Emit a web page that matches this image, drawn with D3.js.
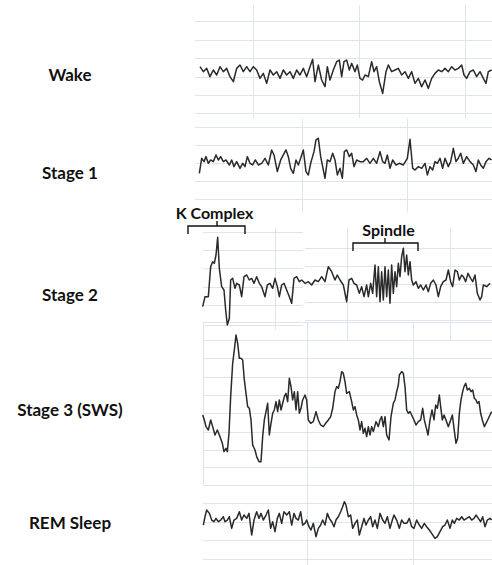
<!DOCTYPE html>
<html><head><meta charset="utf-8">
<script src="https://cdn.jsdelivr.net/npm/d3@7"></script>
<style>html,body{margin:0;padding:0;background:#fff;}svg{display:block;}</style>
</head><body>
<svg id="chart" width="492" height="565"></svg>
<script>
// ---------------- DATA ----------------
const stageLabels = ["Wake", "Stage 1", "Stage 2", "Stage 3 (SWS)", "REM Sleep"];

// EEG traces: [sample, amplitude (µV)]
const wakeEEG = [[30,15],[40,0],[50,10],[60,-15],[70,5],[80,-10],[90,15],[100,0],[110,10],[120,-15],[130,-30],[140,10],[150,20],[160,0],[170,15],[180,0],[190,15],[200,5],[210,-20],[220,-5],[230,-35],[240,5],[250,-10],[260,0],[270,-20],[280,5],[290,-10],[300,0],[310,-20],[320,5],[330,-10],[340,10],[350,-15],[360,15],[368,37],[375,-30],[385,20],[395,-25],[405,-45],[412,15],[420,-25],[430,5],[440,30],[448,35],[455,-15],[462,30],[470,35],[478,5],[485,25],[495,0],[502,20],[510,-20],[518,-25],[525,-10],[535,-15],[545,30],[552,0],[560,15],[568,-30],[578,-65],[588,0],[595,20],[605,0],[615,5],[625,10],[635,-10],[645,0],[655,-20],[665,0],[675,-35],[685,-20],[695,-45],[705,-25],[715,-50],[725,-20],[735,-5],[745,5],[755,0],[765,10],[775,0],[785,15],[795,5],[805,10],[815,20],[822,-10],[830,-20],[840,0],[850,5],[860,-15],[870,0],[880,-20],[888,-35],[895,0],[905,5]];

const stage1EEG = [[28,-30],[35,15],[42,5],[48,20],[55,0],[62,10],[70,5],[78,25],[85,10],[92,20],[100,5],[108,10],[118,-5],[125,10],[132,-10],[140,5],[150,-15],[158,0],[165,-10],[172,20],[180,0],[188,-5],[196,10],[205,-5],[215,0],[225,15],[235,-5],[245,40],[252,25],[262,-25],[272,10],[280,25],[288,40],[295,20],[302,-15],[310,-30],[318,10],[325,-5],[332,15],[340,40],[348,-25],[355,-35],[362,0],[372,35],[378,70],[385,75],[392,20],[398,-10],[405,-45],[412,10],[420,5],[428,30],[435,10],[442,-35],[450,-15],[457,-45],[463,35],[470,40],[478,20],[485,30],[492,-10],[500,10],[510,5],[520,5],[530,15],[540,0],[550,15],[560,0],[570,35],[578,5],[585,0],[592,25],[600,-15],[608,10],[618,-5],[628,0],[640,-5],[652,15],[660,72],[668,-15],[675,-20],[685,-10],[695,-15],[705,0],[712,-35],[720,-10],[728,-20],[735,5],[742,0],[750,15],[758,-15],[765,15],[775,-10],[782,5],[790,45],[798,5],[805,15],[812,30],[820,0],[830,20],[840,5],[850,-5],[858,-25],[865,10],[872,-5],[880,-15],[888,5],[897,15],[905,10]];

const stage2EEG = [[68,-65],[75,-35],[85,-35],[92,55],[98,70],[103,65],[108,90],[113,143],[118,50],[125,-5],[132,-15],[137,-75],[142,-120],[148,-100],[152,15],[158,20],[165,-10],[170,5],[178,0],[185,-35],[192,25],[200,30],[208,15],[215,20],[222,5],[230,25],[238,5],[245,-5],[255,-35],[262,0],[270,5],[278,-10],[285,20],[292,-5],[298,-35],[305,0],[312,5],[320,-15],[328,-35],[335,-55],[342,20],[350,25],[358,10],[365,15],[375,5],[385,10],[395,0],[405,15],[415,10],[425,25],[435,10],[445,55],[455,40],[465,15],[472,30],[480,15],[490,0],[500,-50],[507,15],[515,20],[522,5],[530,0],[538,-25],[545,-5],[552,-35],[560,0],[565,-35],[572,5],[578,-25],[585,60],[590,-35],[595,55],[600,-50],[605,40],[610,-45],[615,55],[620,-35],[625,45],[630,-55],[635,60],[640,-25],[645,40],[650,-5],[655,65],[660,25],[665,85],[670,110],[675,40],[680,90],[685,30],[690,70],[695,15],[700,0],[708,10],[715,-10],[722,0],[730,-15],[738,0],[745,-20],[752,5],[760,15],[768,0],[775,-35],[782,-5],[790,10],[798,15],[805,45],[812,10],[818,-5],[825,45],[832,40],[838,15],[845,30],[850,25],[857,10],[864,35],[872,20],[878,10],[885,30],[892,-25],[900,-45],[905,-35],[910,0],[920,-5],[930,5]];

const stage3EEG = [[38,-5],[43,-20],[48,-40],[55,-50],[62,-20],[68,-40],[75,-65],[82,-50],[90,-70],[97,-90],[102,-115],[108,-105],[112,-115],[117,-60],[122,50],[128,150],[133,190],[138,235],[143,210],[148,165],[153,165],[158,160],[163,100],[168,60],[173,20],[178,15],[183,-20],[188,-95],[195,-110],[200,-130],[207,-145],[213,-145],[218,-70],[223,-20],[228,5],[233,30],[238,-65],[243,-30],[248,0],[253,10],[258,35],[263,5],[268,40],[273,10],[278,30],[283,50],[288,60],[293,35],[298,105],[303,80],[308,40],[313,65],[318,10],[323,65],[328,0],[333,15],[338,40],[345,55],[350,40],[355,-20],[362,-30],[370,-25],[378,5],[385,-20],[392,-35],[400,-40],[407,-30],[415,-20],[422,-10],[428,15],[435,65],[440,80],[445,75],[450,95],[455,125],[460,120],[465,95],[470,60],[478,65],[485,35],[490,10],[495,20],[500,-5],[505,-20],[510,-50],[515,-25],[520,-60],[525,-45],[530,-70],[535,-40],[540,-65],[545,-40],[550,-55],[558,-25],[565,-40],[570,-20],[575,-10],[580,-40],[585,-10],[590,-65],[597,-80],[603,-10],[610,30],[615,40],[620,65],[625,85],[628,115],[635,125],[640,120],[645,80],[650,10],[655,0],[660,5],[665,-5],[672,-20],[678,-35],[685,-25],[692,-20],[698,15],[703,-20],[708,-40],[714,-65],[720,-20],[726,10],[732,-20],[737,25],[742,15],[748,55],[752,20],[757,-20],[762,-5],[768,-20],[775,-40],[782,-20],[787,-5],[792,-45],[798,-90],[803,-75],[808,0],[813,40],[818,65],[822,80],[827,90],[832,70],[838,75],[843,65],[848,70],[853,45],[858,40],[862,30],[867,35],[872,0],[877,-20],[883,-40],[888,-30],[893,-20],[900,-5],[905,5]];

const remEEG = [[40,-10],[45,15],[50,35],[58,25],[65,5],[72,0],[78,10],[85,0],[92,5],[100,15],[105,0],[112,5],[118,15],[125,-20],[132,5],[140,10],[148,30],[155,5],[162,20],[170,10],[177,25],[185,-40],[192,5],[200,30],[207,10],[213,25],[220,5],[228,20],[235,35],[242,-20],[248,0],[255,-30],[262,10],[268,25],[275,-5],[282,30],[290,20],[298,30],[305,-10],[312,25],[318,10],[325,5],[332,30],[338,-10],[345,-5],[350,5],[357,-15],[363,-25],[370,-5],[378,-45],[385,-20],[392,-10],[398,5],[405,-10],[412,25],[418,10],[425,0],[432,-15],[438,5],[445,15],[452,30],[458,45],[463,60],[468,50],[475,15],[482,20],[488,-20],[495,-5],[502,5],[508,-40],[515,-15],[522,10],[528,-10],[535,5],[542,15],[548,-15],[555,5],[562,-20],[570,25],[578,5],[585,-5],[592,15],[600,-20],[607,5],[612,20],[620,5],[628,-20],[635,5],[642,-5],[650,-5],[658,10],[665,-15],[672,-20],[680,5],[688,-10],[695,-20],[703,-5],[710,-15],[718,-25],[725,-35],[735,-50],[742,-45],[750,-30],[758,-15],[765,-10],[772,5],[780,-20],[787,5],[793,-5],[800,10],[808,5],[815,15],[822,5],[830,10],[838,15],[845,5],[852,10],[858,20],[865,10],[872,0],[878,15],[885,-15],[892,5],[900,10],[905,5]];

// Annotations on the Stage 2 trace (sample ranges)
const annotationLabels = ["K Complex", "Spindle"];
const annotationFrom = [24, 519];
const annotationTo = [195, 714];
const annotationMark = [111, 615];

// ---------------- LAYOUT ----------------
const traces = [wakeEEG, stage1EEG, stage2EEG, stage3EEG, remEEG];
const W = 492, H = 565;
const panels = [
  {base: 71.7, labelY: 75, start: 0, grids: [
    {x0: 195, x1: 492, h: [21, 40, 58, 77, 95, 113], v: [253, 359, 465], y0: 5, y1: 118}]},
  {base: 163.3, labelY: 173, start: 0, grids: [
    {x0: 195, x1: 492, h: [127, 145, 163, 181, 199], v: [302, 407], y0: 118, y1: 212}]},
  {base: 285, labelY: 295, start: 30, grids: [
    {x0: 203, x1: 303, h: [232, 250, 268, 287, 305, 325], v: [275], y0: 228, y1: 330},
    {x0: 305, x1: 492, h: [248, 266, 284, 302, 320], v: [347, 450], y0: 228, y1: 340}]},
  {base: 413.3, labelY: 410, start: 0, grids: [
    {x0: 203, x1: 492, h: [322, 340, 358, 377, 395, 413, 432, 450, 467, 485], v: [203, 307, 413], y0: 322, y1: 486}]},
  {base: 521.7, labelY: 523, start: 0, grids: [
    {x0: 203, x1: 492, h: [503, 522, 540, 559], v: [307, 413], y0: 470, y1: 565}]}
];

const svg = d3.select("#chart");
svg.append("rect").attr("width", W).attr("height", H).attr("fill", "#fff");

const gridColor = "#dfe5ee";
const gGrid = svg.append("g").attr("stroke", gridColor).attr("stroke-width", 1).attr("shape-rendering", "crispEdges");
panels.forEach(p => {
  p.grids.forEach(g => {
    gGrid.selectAll(null).data(g.h).enter().append("line")
      .attr("x1", g.x0).attr("x2", g.x1)
      .attr("y1", d => Math.round(d) + 0.5).attr("y2", d => Math.round(d) + 0.5);
    gGrid.selectAll(null).data(g.v).enter().append("line")
      .attr("y1", g.y0).attr("y2", g.y1)
      .attr("x1", d => Math.round(d) + 0.5).attr("x2", d => Math.round(d) + 0.5);
  });
});

const font = "Lato, 'Open Sans', sans-serif";

traces.forEach((data, i) => {
  const p = panels[i];
  const x = d3.scaleLinear().domain([p.start, p.start + 906]).range([190, 492]);
  const y = d3.scaleLinear().domain([-300, 300]).range([p.base + 100, p.base - 100]);
  const line = d3.line().x(d => x(d[0])).y(d => y(d[1]));
  svg.append("path").datum(data)
    .attr("d", line)
    .attr("fill", "none")
    .attr("stroke", "#2a2a2a")
    .attr("stroke-width", 1.5)
    .attr("stroke-linejoin", "round");
  p.x = x; p.y = y;
});

// stage labels
svg.selectAll("text.stage").data(stageLabels).enter().append("text")
  .attr("class", "stage")
  .attr("x", 70)
  .attr("y", (d, i) => panels[i].labelY)
  .attr("dy", "0.35em")
  .attr("text-anchor", "middle")
  .attr("font-family", font)
  .attr("font-weight", "bold")
  .attr("font-size", 17)
  .attr("fill", "#111")
  .text(d => d);

// annotations on stage 2
const x2 = panels[2].x;
const bracketY = [226, 243];
const labelYs = [213, 230];
annotationLabels.forEach((lab, i) => {
  const a = x2(annotationFrom[i]), b = x2(annotationTo[i]), m = x2(annotationMark[i]);
  const by = bracketY[i];
  svg.append("path")
    .attr("d", `M${a},${by + 8}V${by}H${b}V${by + 8}M${m},${by}V${by - 5}`)
    .attr("fill", "none").attr("stroke", "#111").attr("stroke-width", 1.4);
  svg.append("text")
    .attr("x", (a + b) / 2 + (i === 0 ? -2 : 3))
    .attr("y", labelYs[i]).attr("dy", "0.35em")
    .attr("text-anchor", "middle")
    .attr("font-family", font).attr("font-weight", "bold").attr("font-size", 16)
    .attr("fill", "#111").text(lab);
});
</script>
</body></html>
